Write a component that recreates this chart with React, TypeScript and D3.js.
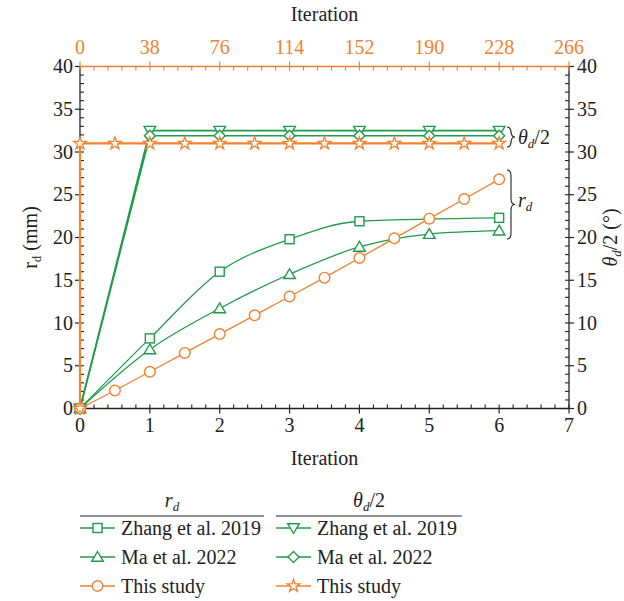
import React from "react";
import * as d3 from "d3";

const GREEN = "#1f9c4a";
const ORANGE = "#f3812e";
const FONT = "Liberation Serif";

// r_d series (bottom axis: iteration)
const zhangRdX = [0, 1, 2, 3, 4, 6];
const zhangRdY = [0, 8.2, 16.0, 19.8, 21.9, 22.3];
const maRdX = [0, 1, 2, 3, 4, 5, 6];
const maRdY = [0, 6.9, 11.7, 15.7, 18.9, 20.4, 20.8];
const thisRdX = [0, 0.5, 1, 1.5, 2, 2.5, 3, 3.5, 4, 4.5, 5, 5.5, 6];
const thisRdY = [0, 2.1, 4.3, 6.5, 8.7, 10.9, 13.1, 15.3, 17.6, 19.9, 22.2, 24.5, 26.8];

// theta_d/2 series
const zhangThX = [0, 1, 2, 3, 4, 5, 6];
const zhangThY = [0, 32.5, 32.5, 32.5, 32.5, 32.5, 32.5];
const maThX = [0, 1, 2, 3, 4, 5, 6];
const maThY = [0, 31.9, 31.9, 31.9, 31.9, 31.9, 31.9];
// this study, plotted against the top axis (iterations)
const thisThIter = [0, 0, 19, 38, 57, 76, 95, 114, 133, 152, 171, 190, 209, 228];
const thisThY = [0, 31, 31, 31, 31, 31, 31, 31, 31, 31, 31, 31, 31, 31];

const bottomTicks = [0, 1, 2, 3, 4, 5, 6, 7];
const topTicks = [0, 38, 76, 114, 152, 190, 228, 266];
const yTicks = [0, 5, 10, 15, 20, 25, 30, 35, 40];

const legendLeft = ["Zhang et al. 2019", "Ma et al. 2022", "This study"];
const legendRight = ["Zhang et al. 2019", "Ma et al. 2022", "This study"];

type Shape = "square" | "triangle" | "circle" | "down" | "diamond" | "star";

function marker(shape: Shape, cx: number, cy: number, color: string, key?: any) {
  const common = { fill: "#fff", stroke: color, strokeWidth: 1.4 } as any;
  switch (shape) {
    case "square":
      return <rect key={key} x={cx - 4.5} y={cy - 4.5} width={9} height={9} {...common} />;
    case "circle":
      return <circle key={key} cx={cx} cy={cy} r={5.3} {...common} />;
    case "triangle":
      return <path key={key} d={`M${cx},${cy - 5.5}L${cx + 5.8},${cy + 4.3}L${cx - 5.8},${cy + 4.3}Z`} {...common} />;
    case "down":
      return <path key={key} d={`M${cx},${cy + 5.5}L${cx + 5.8},${cy - 4.3}L${cx - 5.8},${cy - 4.3}Z`} {...common} />;
    case "diamond":
      return <path key={key} d={`M${cx},${cy - 5.5}L${cx + 5.5},${cy}L${cx},${cy + 5.5}L${cx - 5.5},${cy}Z`} {...common} />;
    case "star": {
      const p = d3.symbol(d3.symbolStar, 50)();
      return <path key={key} d={p || ""} transform={`translate(${cx},${cy})`} {...common} strokeWidth={1.3} />;
    }
  }
}

function brace(x: number, y1: number, y2: number, w: number) {
  const ym = (y1 + y2) / 2;
  const h = w / 2;
  return `M${x},${y1} Q${x + h},${y1} ${x + h},${y1 + h * 1.5} L${x + h},${ym - h * 1.5} Q${x + h},${ym} ${x + w},${ym} Q${x + h},${ym} ${x + h},${ym + h * 1.5} L${x + h},${y2 - h * 1.5} Q${x + h},${y2} ${x},${y2}`;
}

export default function App() {
  const W = 624, H = 601;
  const L = 80, R = 569, T = 66.5, B = 408.5;
  const x = d3.scaleLinear().domain([0, 7]).range([L, R]);
  const xTop = d3.scaleLinear().domain([0, 266]).range([L, R]);
  const y = d3.scaleLinear().domain([0, 40]).range([B, T]);

  const curve = d3.line<[number, number]>().x(d => x(d[0])).y(d => y(d[1])).curve(d3.curveMonotoneX);
  const lin = d3.line<[number, number]>().x(d => x(d[0])).y(d => y(d[1]));
  const linTop = d3.line<[number, number]>().x(d => xTop(d[0])).y(d => y(d[1]));

  const zip = (a: number[], b: number[]) => a.map((v, i) => [v, b[i]] as [number, number]);

  const xMinor = d3.range(0, 7.0001, 0.2);
  const topMinor = d3.range(0, 266.001, 7.6);
  const yMinor = d3.range(0, 40.001, 1);

  const tickFont = { fontFamily: FONT, fontSize: 20, fill: "#222" } as any;
  const subFont = 13;

  return (
    <svg width={W} height={H} style={{ position: "absolute", left: 0, top: 0, background: "#fff" }}>
      <rect width={W} height={H} fill="#fff" />
      {/* bottom axis */}
      <line x1={L} x2={R} y1={B} y2={B} stroke="#222" strokeWidth={1.3} />
      {xMinor.map((v, i) => <line key={"xm" + i} x1={x(v)} x2={x(v)} y1={B} y2={B - 4} stroke="#222" strokeWidth={1.1} />)}
      {bottomTicks.map(v => (
        <g key={"xt" + v}>
          <line x1={x(v)} x2={x(v)} y1={B} y2={B + 5} stroke="#222" strokeWidth={1.2} />
          <text x={x(v)} y={B + 23} textAnchor="middle" {...tickFont}>{v}</text>
        </g>
      ))}
      <text x={(L + R) / 2} y={465} textAnchor="middle" {...tickFont}>Iteration</text>

      {/* left axis */}
      <line x1={L} x2={L} y1={T} y2={B} stroke="#222" strokeWidth={1.3} />
      {yMinor.map((v, i) => <line key={"ylm" + i} x1={L} x2={L + 4} y1={y(v)} y2={y(v)} stroke="#222" strokeWidth={1.1} />)}
      {yTicks.map(v => (
        <g key={"yl" + v}>
          <line x1={L - 5} x2={L} y1={y(v)} y2={y(v)} stroke="#222" strokeWidth={1.2} />
          <text x={L - 7} y={y(v) + 6.5} textAnchor="end" {...tickFont}>{v}</text>
        </g>
      ))}
      <text transform={`translate(37,${(T + B) / 2}) rotate(-90)`} textAnchor="middle" {...tickFont}>
        r<tspan fontSize={subFont} dy={4}>d</tspan><tspan dy={-4}> (mm)</tspan>
      </text>

      {/* right axis */}
      <line x1={R} x2={R} y1={T} y2={B} stroke="#222" strokeWidth={1.3} />
      {yMinor.map((v, i) => <line key={"yrm" + i} x1={R - 4} x2={R} y1={y(v)} y2={y(v)} stroke="#222" strokeWidth={1.1} />)}
      {yTicks.map(v => (
        <g key={"yr" + v}>
          <line x1={R} x2={R + 5} y1={y(v)} y2={y(v)} stroke="#222" strokeWidth={1.2} />
          <text x={R + 8} y={y(v) + 6.5} textAnchor="start" {...tickFont}>{v}</text>
        </g>
      ))}
      <text transform={`translate(617,${(T + B) / 2}) rotate(-90)`} textAnchor="middle" {...tickFont}>
        <tspan fontStyle="italic">θ</tspan><tspan fontSize={subFont} dy={4} fontStyle="italic">d</tspan><tspan dy={-4}>/2 (°)</tspan>
      </text>

      {/* top axis */}
      <line x1={L} x2={R} y1={T} y2={T} stroke={ORANGE} strokeWidth={1.5} />
      {topMinor.map((v, i) => <line key={"tm" + i} x1={xTop(v)} x2={xTop(v)} y1={T} y2={T + 4} stroke={ORANGE} strokeWidth={1.1} />)}
      {topTicks.map(v => (
        <g key={"tt" + v}>
          <line x1={xTop(v)} x2={xTop(v)} y1={T - 5} y2={T} stroke={ORANGE} strokeWidth={1.2} />
          <text x={xTop(v)} y={T - 13} textAnchor="middle" {...tickFont} fill={ORANGE}>{v}</text>
        </g>
      ))}
      <text x={(L + R) / 2} y={21} textAnchor="middle" {...tickFont}>Iteration</text>

      {/* theta lines */}
      <path d={lin(zip(zhangThX, zhangThY)) || ""} fill="none" stroke={GREEN} strokeWidth={1.6} />
      <path d={lin(zip(maThX, maThY)) || ""} fill="none" stroke={GREEN} strokeWidth={1.6} />
      <path d={linTop(zip(thisThIter, thisThY)) || ""} fill="none" stroke={ORANGE} strokeWidth={2.2} />
      {/* r_d lines */}
      <path d={curve(zip(zhangRdX, zhangRdY)) || ""} fill="none" stroke={GREEN} strokeWidth={1.3} />
      <path d={curve(zip(maRdX, maRdY)) || ""} fill="none" stroke={GREEN} strokeWidth={1.3} />
      <path d={lin(zip(thisRdX, thisRdY)) || ""} fill="none" stroke={ORANGE} strokeWidth={1.3} />

      {/* markers */}
      {zhangThX.map((v, i) => marker("down", x(v), y(zhangThY[i]), GREEN, "zd" + i))}
      {maThX.map((v, i) => marker("diamond", x(v), y(maThY[i]), GREEN, "md" + i))}
      {zhangRdX.map((v, i) => marker("square", x(v), y(zhangRdY[i]), GREEN, "zs" + i))}
      {maRdX.map((v, i) => marker("triangle", x(v), y(maRdY[i]), GREEN, "mt" + i))}
      {thisRdX.map((v, i) => marker("circle", x(v), y(thisRdY[i]), ORANGE, "tc" + i))}
      {thisThIter.map((v, i) => marker("star", xTop(v), y(thisThY[i]), ORANGE, "ts" + i))}

      {/* braces */}
      <path d={brace(507, 127, 147, 8)} fill="none" stroke="#222" strokeWidth={1.1} />
      <text x={518} y={144} {...tickFont}>
        <tspan fontStyle="italic">θ</tspan><tspan fontSize={subFont} dy={4} fontStyle="italic">d</tspan><tspan dy={-4}>/2</tspan>
      </text>
      <path d={brace(507, 170, 239, 8)} fill="none" stroke="#222" strokeWidth={1.1} />
      <text x={518} y={207} {...tickFont}>
        <tspan fontStyle="italic">r</tspan><tspan fontSize={subFont} dy={4} fontStyle="italic">d</tspan>
      </text>

      {/* legend */}
      <text x={172} y={507} textAnchor="middle" {...tickFont}>
        <tspan fontStyle="italic">r</tspan><tspan fontSize={subFont} dy={4} fontStyle="italic">d</tspan>
      </text>
      <line x1={80} x2={264} y1={516} y2={516} stroke="#222" strokeWidth={1.2} />
      <text x={369} y={507} textAnchor="middle" {...tickFont}>
        <tspan fontStyle="italic">θ</tspan><tspan fontSize={subFont} dy={4} fontStyle="italic">d</tspan><tspan dy={-4}>/2</tspan>
      </text>
      <line x1={276} x2={462} y1={516} y2={516} stroke="#222" strokeWidth={1.2} />
      {legendLeft.map((t, i) => {
        const yy = 528 + i * 29;
        const c = i === 2 ? ORANGE : GREEN;
        const s: Shape = i === 0 ? "square" : i === 1 ? "triangle" : "circle";
        return (
          <g key={"ll" + i}>
            <line x1={80} x2={115} y1={yy} y2={yy} stroke={c} strokeWidth={1.3} />
            {marker(s, 97.5, yy, c)}
            <text x={121} y={yy + 6.5} {...tickFont}>{t}</text>
          </g>
        );
      })}
      {legendRight.map((t, i) => {
        const yy = 528 + i * 29;
        const c = i === 2 ? ORANGE : GREEN;
        const s: Shape = i === 0 ? "down" : i === 1 ? "diamond" : "star";
        return (
          <g key={"lr" + i}>
            <line x1={276} x2={311} y1={yy} y2={yy} stroke={c} strokeWidth={1.3} />
            {marker(s, 293.5, yy, c)}
            <text x={317} y={yy + 6.5} {...tickFont}>{t}</text>
          </g>
        );
      })}
    </svg>
  );
}
